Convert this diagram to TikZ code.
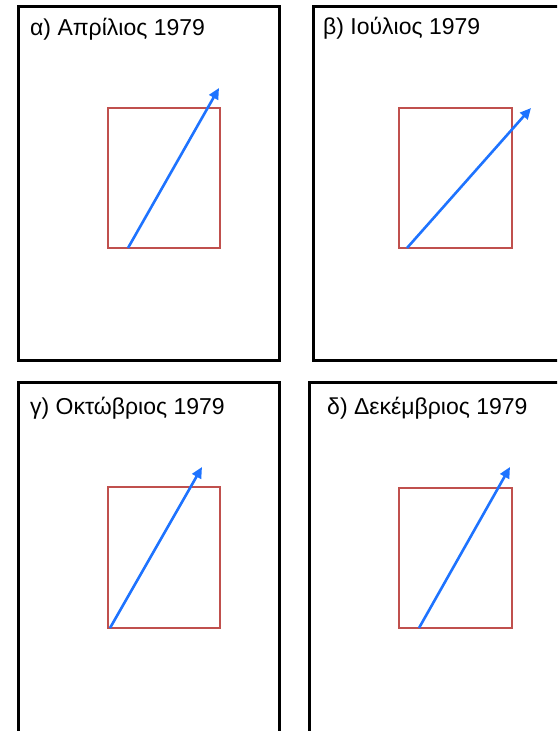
\documentclass[tikz,border=0pt]{standalone}
\usepackage{fontspec}
\setmainfont{Liberation Sans}
\usetikzlibrary{arrows.meta}
\definecolor{boxred}{RGB}{192,80,77}
\definecolor{vecblue}{RGB}{30,115,255}
\begin{document}
\begin{tikzpicture}[
  x=1pt, y=-1pt,
  frame/.style={draw=black, line width=3pt},
  sector/.style={draw=boxred, line width=2.9pt},
  vec/.style={-{Triangle[length=11pt,width=10pt]}, draw=vecblue, line width=2.6pt},
  lab/.style={anchor=base west, inner sep=0pt, font=\fontsize{23}{27}\selectfont}
]
  \useasboundingbox (0,0) rectangle (557,731);
  \clip (0,0) rectangle (557,731);
  \foreach \p/\fa/\fb/\fc/\fd/\ra/\rb/\rc/\rd/\sx/\sy/\ex/\ey/\lx/\ly/\txt in {
      a/18/6/279/360/108/108/220/248/128/248/219/88/30/35/{α) Απρίλιος 1979},
      b/313/6/575/360/399/108/512/248/407/248/531/108/323/34/{β) Ιούλιος 1979},
      c/18/382/279/745/108/487/220/628/110/628/202/467/30/414/{γ) Οκτώβριος 1979},
      d/309/382/575/745/399/488/512/628/419/628/510/467/327/414/{δ) Δεκέμβριος 1979}} {
    % Panel frame
    \draw[frame] (\fa,\fb) rectangle (\fc,\fd);
    % Red box
    \draw[sector] (\ra,\rb) rectangle (\rc,\rd);
    % Title
    \node[lab] (t\p) at (\lx,\ly) {\txt};
    % Vector
    \coordinate (s\p) at (\sx,\sy);
    \coordinate (e\p) at (\ex,\ey);
    \draw[vec] (s\p) -- (e\p);
  }
\end{tikzpicture}
\end{document}
